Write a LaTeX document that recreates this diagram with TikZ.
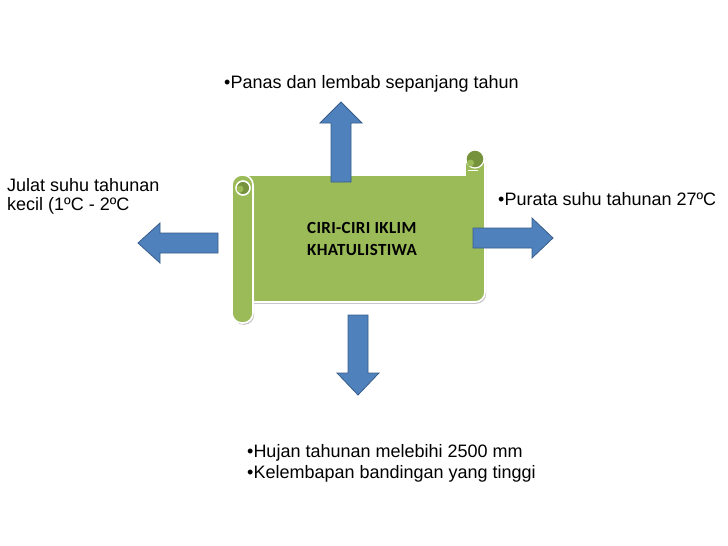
\documentclass[tikz,border=0pt]{standalone}
\usepackage{fontspec}
\setmainfont{Liberation Sans}
\newfontfamily\calfont[LetterSpace=2]{Carlito}
\usetikzlibrary{calc, positioning}
\definecolor{scrollgreen}{RGB}{155,187,89}
\definecolor{scrolldark}{RGB}{118,146,60}
\definecolor{arrowblue}{RGB}{79,129,189}
\definecolor{arrowedge}{RGB}{56,93,138}
\tikzset{
    scrollbody/.style={fill=scrollgreen, draw=white, line width=1.6pt},
    scrollshadow/.style={fill=black!22, draw=none},
    blockarrow/.style={fill=arrowblue, draw=arrowedge, line width=0.8pt, line join=miter},
    notetext/.style={inner sep=0pt, align=left, font=\fontsize{18}{20}\selectfont},
    titletext/.style={inner sep=0pt, align=left, font=\calfont\bfseries\fontsize{17}{21.7}\selectfont}
}

\begin{document}
\begin{tikzpicture}[x=1pt, y=-1pt]
    \useasboundingbox (0,0) rectangle (728,546);
    \def\panel{(245,175) -- (465,175) -- (465,160) arc (180:360:10) -- (485,292) arc (0:90:10) -- (245,302) -- cycle}
    \def\roll{(232,175) rectangle (253,323)}
    % scroll
    \fill[scrollshadow, xshift=1.2pt, yshift=-1.8pt] \panel;
    \draw[scrollbody] \panel;
    \fill[scrollshadow, rounded corners=10pt, xshift=1.2pt, yshift=-1.8pt] \roll;
    \draw[scrollbody, rounded corners=10pt] \roll;
    \draw[white, line width=1.6pt, fill=scrolldark] (243,188) circle (7);
    \fill[scrollgreen] (240,189) circle (3.5);
    \draw[white, line width=1.2pt, fill=scrolldark] (475,159) circle (9);
    \fill[scrollgreen] (470.5,163) circle (3.5);
    \draw[white, line width=0.8pt] (468,170) -- (478,170);
    % arrows
    \draw[blockarrow] (331,182) -- (331,123) -- (320,123) -- (341,102) -- (362,123) -- (351,123) -- (351,182) -- cycle;
    \draw[blockarrow] (218,233) -- (160,233) -- (160,223) -- (138,243) -- (160,263) -- (160,253) -- (218,253) -- cycle;
    \draw[blockarrow] (473,228) -- (532,228) -- (532,218) -- (553,238) -- (532,258) -- (532,248) -- (473,248) -- cycle;
    \draw[blockarrow] (348,315) -- (368,315) -- (368,373) -- (379,373) -- (358,395) -- (337,373) -- (348,373) -- cycle;
    % texts
    \node[titletext, anchor=north west] (tajuk) at (307,222) {CIRI-CIRI IKLIM\\KHATULISTIWA};
    \node[notetext, anchor=base west] (panas) at (224,88) {•Panas dan lembab sepanjang tahun};
    \node[notetext, anchor=base west] (purata) at (498,205) {•Purata suhu tahunan 27ºC};
    \node[notetext, anchor=north west, font=\fontsize{18}{19}\selectfont] (julat) at (7,178) {Julat suhu tahunan\\kecil (1ºC - 2ºC};
    \node[notetext, anchor=north west, font=\fontsize{18}{21}\selectfont] (hujan) at (247,444) {•Hujan tahunan melebihi 2500 mm\\•Kelembapan bandingan yang tinggi};
\end{tikzpicture}
\end{document}
